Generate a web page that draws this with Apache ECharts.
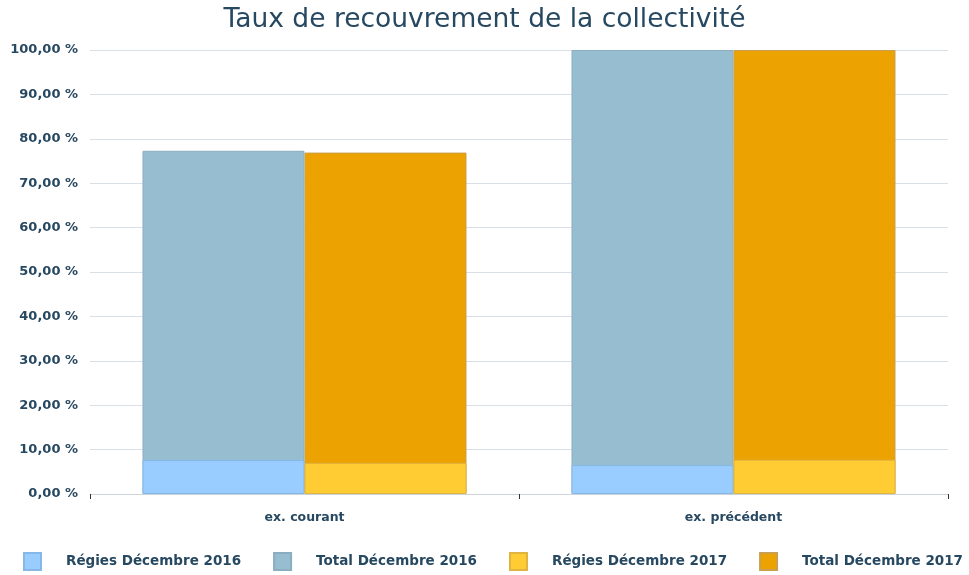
<!DOCTYPE html>
<html><head><meta charset="utf-8">
<script src="https://cdn.jsdelivr.net/npm/echarts@6/dist/echarts.min.js"></script>
<style>html,body{margin:0;padding:0;background:#fff}#c{width:969px;height:575px}</style>
</head><body><div id="c"></div>
<script>
const categories = ['ex. courant', 'ex. précédent'];
const regies2016 = [7.65, 6.5];
const total2016 = [77.3, 100];
const regies2017 = [7.0, 7.7];
const total2017 = [76.9, 100];
const seriesNames = ['Régies Décembre 2016', 'Total Décembre 2016', 'Régies Décembre 2017', 'Total Décembre 2017'];
const colors = ['#99ccff', '#97bdd0', '#ffcc33', '#eca200'];

const txt = '#274861';
const font = 'DejaVu Sans';
const chart = echarts.init(document.getElementById('c'));
const fmt = v => v.toFixed(2).replace('.', ',') + ' %';
const bw = 162;
chart.setOption({
  animation: false,
  title: { text: 'Taux de recouvrement de la collectivité', left: 'center', top: 2,
    textStyle: { color: txt, fontFamily: font, fontWeight: 'normal', fontSize: 26.5 } },
  grid: { left: 90, right: 21, top: 50, bottom: 81 },
  legend: {
    bottom: -1, left: 18, itemWidth: 17, itemHeight: 17, itemGap: 32,
    icon: 'rect',
    data: seriesNames,
    textStyle: { color: txt, fontFamily: font, fontWeight: 'bold', fontSize: 13.5, padding: [0, 0, 0, 20] }
  },
  xAxis: [
    { type: 'category', data: categories,
      axisLine: { lineStyle: { color: '#ccd3db' } },
      axisTick: { show: true, length: 5, lineStyle: { color: '#333' } },
      axisLabel: { color: txt, fontFamily: font, fontWeight: 'bold', fontSize: 12.5, margin: 17 } },
    { type: 'category', data: categories, show: false, position: 'bottom' }
  ],
  yAxis: {
    type: 'value', min: 0, max: 100, interval: 10,
    axisLine: { show: false }, axisTick: { show: false },
    splitLine: { lineStyle: { color: '#d9dfe6' } },
    axisLabel: { color: txt, fontFamily: font, fontWeight: 'bold', fontSize: 13, margin: 12, formatter: fmt }
  },
  series: [
    { name: seriesNames[1], type: 'bar', xAxisIndex: 0, data: total2016, barWidth: bw, barGap: '0%',
      itemStyle: { color: colors[1], borderColor: '#8aaebf', borderWidth: 1 }, z: 1 },
    { name: seriesNames[3], type: 'bar', xAxisIndex: 0, data: total2017, barWidth: bw, barGap: '0%',
      itemStyle: { color: colors[3], borderColor: '#c9a050', borderWidth: 1 }, z: 1 },
    { name: seriesNames[0], type: 'bar', xAxisIndex: 1, data: regies2016, barWidth: bw, barGap: '0%',
      itemStyle: { color: colors[0], borderColor: '#85b8e6', borderWidth: 1 }, z: 3 },
    { name: seriesNames[2], type: 'bar', xAxisIndex: 1, data: regies2017, barWidth: bw, barGap: '0%',
      itemStyle: { color: colors[2], borderColor: '#e0b440', borderWidth: 1 }, z: 3 }
  ]
});
</script></body></html>
